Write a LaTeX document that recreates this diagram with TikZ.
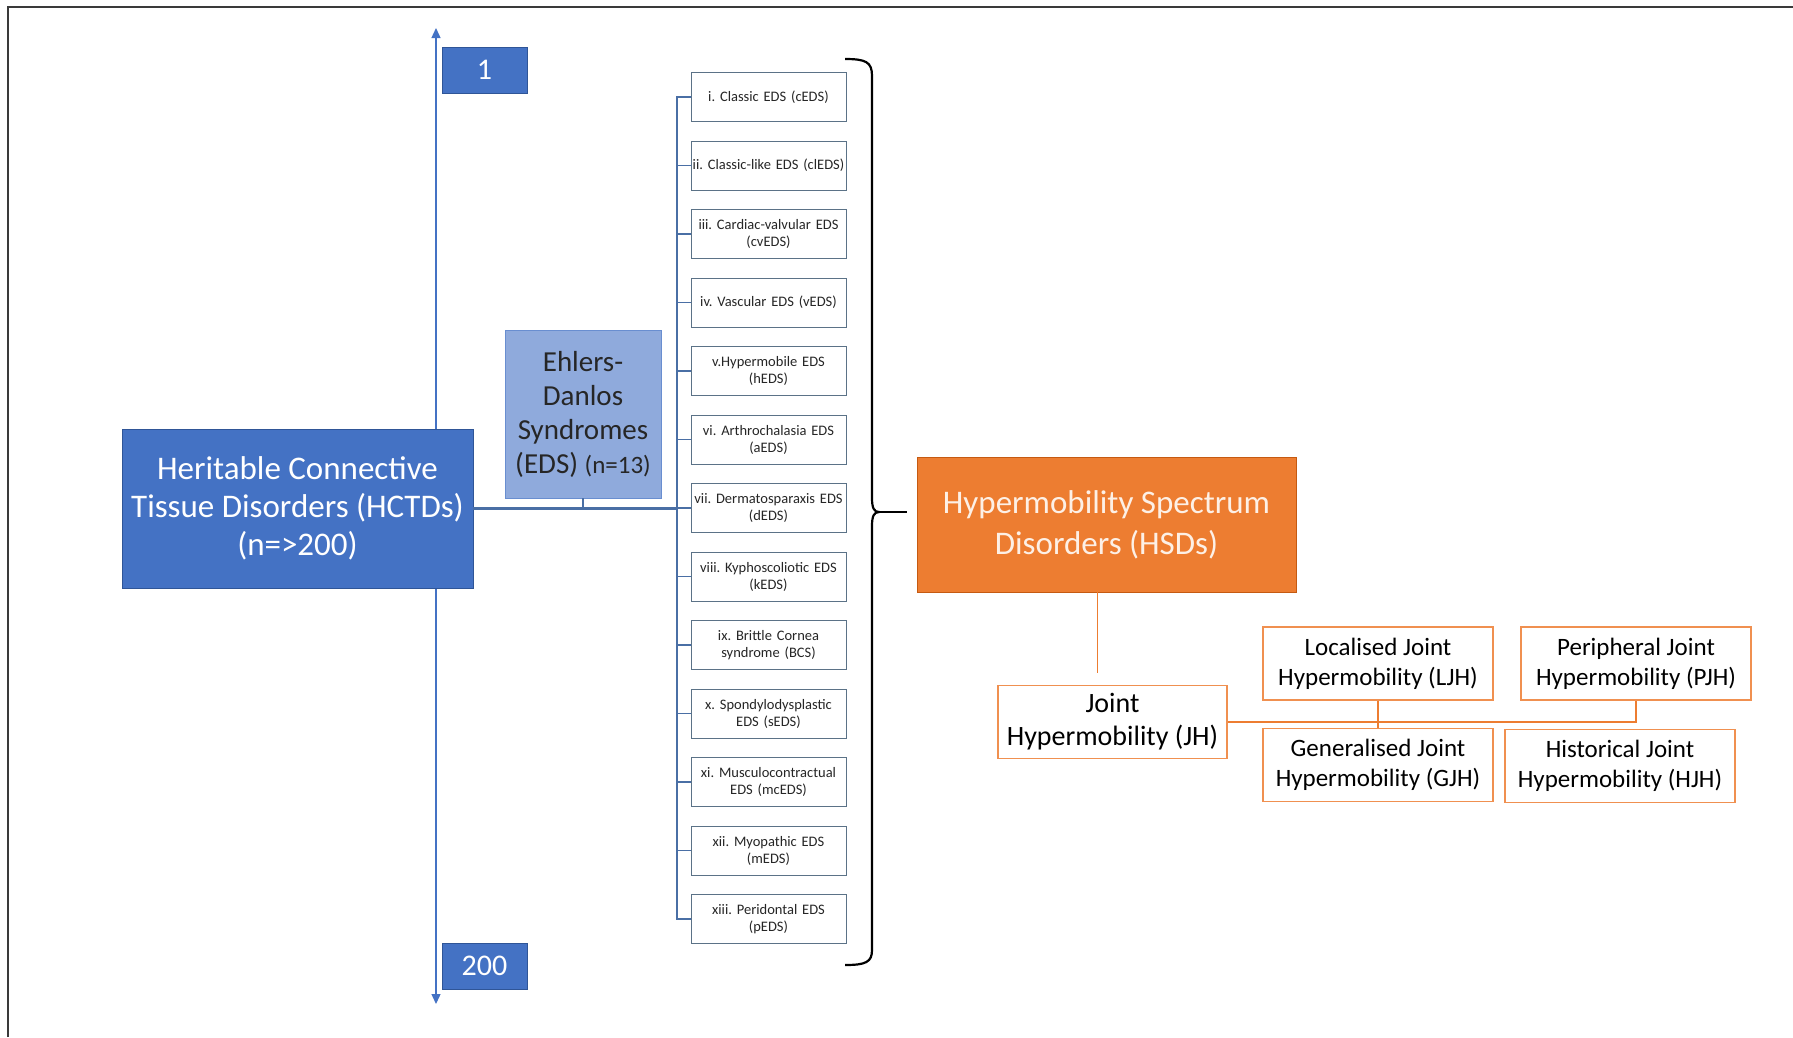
\documentclass[tikz,border=0pt]{standalone}
\usepackage{fontspec}
\setmainfont{Carlito}
\usetikzlibrary{arrows.meta}
\definecolor{HBlue}{HTML}{4472C4}
\definecolor{HBlueDark}{HTML}{2F5597}
\definecolor{HBlueLight}{HTML}{8FAADC}
\definecolor{HBlueLine}{HTML}{4A6FA5}
\definecolor{HOrange}{HTML}{ED7D31}
\definecolor{HOrangeDark}{HTML}{C55A11}
\definecolor{HSlate}{HTML}{5B7287}
\definecolor{HText}{HTML}{262626}
\definecolor{HFrame}{HTML}{3A3A3A}
\definecolor{HCream}{HTML}{FDF0E6}
\frenchspacing

\tikzset{
  hctdbox/.style={draw=HBlueDark, fill=HBlue, text=white, line width=0.8pt, align=center,
    minimum width=351pt, minimum height=159pt, inner sep=0pt, font=\fontsize{33}{38}\selectfont},
  edsbox/.style={draw=HBlue!80, fill=HBlueLight, text=HText, line width=0.8pt, align=center,
    minimum width=156pt, minimum height=168pt, inner sep=0pt, font=\fontsize{29}{34}\selectfont},
  numbox/.style={fill=HBlue, draw=HBlueDark, line width=0.6pt, text=white, minimum width=85pt,
    minimum height=46pt, inner sep=0pt, font=\fontsize{30}{34}\selectfont},
  subbox/.style={draw=HSlate, fill=white, text=HText, line width=1pt, align=center, text width=154pt,
    minimum width=155pt, minimum height=49pt, inner sep=0.5pt, font=\fontsize{14.5}{17}\selectfont},
  hsdbox/.style={draw=HOrangeDark, fill=HOrange, text=HCream, line width=0.8pt, align=center,
    minimum width=379pt, minimum height=135pt, inner sep=0pt, font=\fontsize{33}{41}\selectfont},
  jhbox/.style={draw=HOrange!85, fill=white, text=black, line width=1.2pt, align=center,
    minimum width=230pt, minimum height=73pt, inner sep=0pt, font=\fontsize{25}{30}\selectfont},
  scaleline/.style={draw=HBlue, line width=1.3pt, {Triangle[width=9pt,length=10pt]}-{Triangle[width=9pt,length=10pt]}},
  edsline/.style={draw=HBlueLine, line width=1.5pt},
  hctdline/.style={draw=HBlueLine, line width=2.6pt},
  jhline/.style={draw=HOrange, line width=1.6pt},
  braceline/.style={draw=black, line width=2.2pt},
}

\begin{document}
\begin{tikzpicture}[x=1pt,y=-1pt]
\path[use as bounding box] (0,0) rectangle (1793,1037);
\draw[HFrame,line width=2pt] (8,1037) -- (8,7) -- (1793,7);

% scale 1 .. 200
\coordinate (axtop) at (436,28);
\coordinate (axbot) at (436,1004);
\draw[scaleline] (axtop) -- (axbot);
\node[numbox] (one) at (484.5,70) {1};
\node[numbox] (twohundred) at (484.5,966) {200};

% main groups
\node[hctdbox] (hctd) at (297.5,508.5) {Heritable Connective\\Tissue Disorders (HCTDs)\\(n=>200)};
\node[edsbox] (eds) at (583,414) {Ehlers-\\Danlos\\Syndromes\\(EDS) {\fontsize{25}{34}\selectfont(n=13)}};

% EDS types
\node[subbox] (ceds) at (768.5,97) {i. Classic EDS (cEDS)};
\node[subbox] (cleds) at (768.5,165.5) {ii. Classic-like EDS (clEDS)};
\node[subbox] (cveds) at (768.5,234) {iii. Cardiac-valvular EDS\\(cvEDS)};
\node[subbox] (veds) at (768.5,302.5) {iv. Vascular EDS (vEDS)};
\node[subbox] (heds) at (768.5,371) {v.Hypermobile EDS\\(hEDS)};
\node[subbox] (aeds) at (768.5,439.5) {vi. Arthrochalasia EDS\\(aEDS)};
\node[subbox] (deds) at (768.5,508) {vii. Dermatosparaxis EDS\\(dEDS)};
\node[subbox] (keds) at (768.5,576.5) {viii. Kyphoscoliotic EDS\\(kEDS)};
\node[subbox] (bcs) at (768.5,645) {ix. Brittle Cornea\\syndrome (BCS)};
\node[subbox] (seds) at (768.5,713.5) {x. Spondylodysplastic\\EDS (sEDS)};
\node[subbox] (mceds) at (768.5,782) {xi. Musculocontractual\\EDS (mcEDS)};
\node[subbox] (meds) at (768.5,850.5) {xii. Myopathic EDS\\(mEDS)};
\node[subbox] (peds) at (768.5,919) {xiii. Peridontal EDS\\(pEDS)};

% tree lines
\coordinate (tk) at (677,0);
\draw[hctdline] (hctd.east) -- (hctd.east -| tk);
\draw[edsline] (eds.south) -- (eds.south |- hctd.east);
\draw[edsline] (ceds.west) -- (ceds.west -| tk) -- (peds.west -| tk) -- (peds.west);
\draw[edsline] (cleds.west) -- (cleds.west -| tk);
\draw[edsline] (cveds.west) -- (cveds.west -| tk);
\draw[edsline] (veds.west) -- (veds.west -| tk);
\draw[edsline] (heds.west) -- (heds.west -| tk);
\draw[edsline] (aeds.west) -- (aeds.west -| tk);
\draw[edsline] (deds.west) -- (deds.west -| tk);
\draw[edsline] (keds.west) -- (keds.west -| tk);
\draw[edsline] (bcs.west) -- (bcs.west -| tk);
\draw[edsline] (seds.west) -- (seds.west -| tk);
\draw[edsline] (mceds.west) -- (mceds.west -| tk);
\draw[edsline] (meds.west) -- (meds.west -| tk);

% brace
\coordinate (btop) at (845,59);
\coordinate (bbot) at (845,965);
\coordinate (btip) at (879,512);
\draw[braceline] (btop) .. controls (866,59) and (872,62) .. (872,76) -- (872,498)
  .. controls (872,508) and (874,512) .. (btip)
  .. controls (874,512) and (872,516) .. (872,526) -- (872,950)
  .. controls (872,962) and (866,965) .. (bbot);

% hypermobility
\node[hsdbox] (hsd) at (1106.5,524.5) {Hypermobility Spectrum\\Disorders (HSDs)};
\draw[braceline,line width=2pt] (btip) -- ([xshift=-10pt]hsd.west |- btip);
\node[jhbox,minimum width=229pt,font=\fontsize{28}{33}\selectfont] (jh) at (1112.5,722) {Joint\\Hypermobility (JH)};
\node[jhbox] (ljh) at (1378,663.5) {Localised Joint\\Hypermobility (LJH)};
\node[jhbox] (pjh) at (1636,663.5) {Peripheral Joint\\Hypermobility (PJH)};
\node[jhbox] (gjh) at (1378,765) {Generalised Joint\\Hypermobility (GJH)};
\node[jhbox] (hjh) at (1620,766) {Historical Joint\\Hypermobility (HJH)};
\draw[jhline] ([xshift=-9pt]hsd.south) -- ([xshift=-9pt,yshift=12pt]hsd.south |- jh.north);
\draw[jhline] (jh.east) -- (jh.east -| pjh.south) -- (pjh.south);
\draw[jhline] (ljh.south) -- (gjh.north);
\end{tikzpicture}
\end{document}
